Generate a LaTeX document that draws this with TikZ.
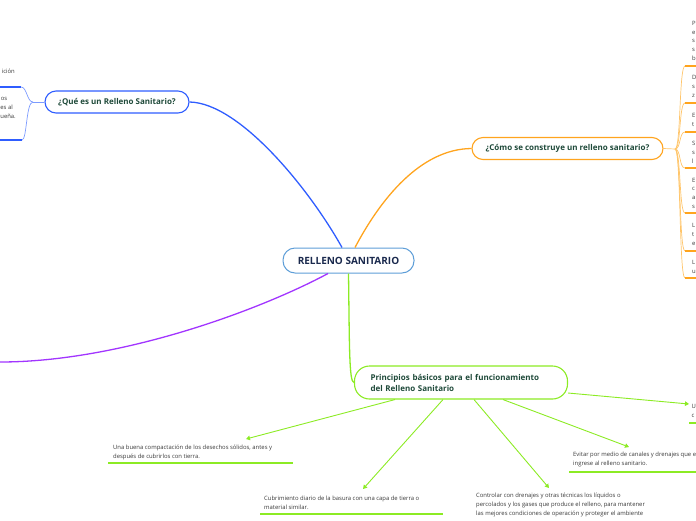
\documentclass[tikz,border=0pt]{standalone}
\usepackage{fontspec}
\setmainfont{Open Sans}
\usetikzlibrary{arrows.meta}
\definecolor{cblue}{HTML}{2F5DFF}
\definecolor{cbluel}{HTML}{7C9BFF}
\definecolor{corange}{HTML}{FFA41E}
\definecolor{corangel}{HTML}{FFC56A}
\definecolor{cgreen}{HTML}{8CEB24}
\definecolor{cpurple}{HTML}{A235FF}
\definecolor{ccentral}{HTML}{5E9ED8}
\definecolor{ctcentral}{HTML}{1B2A4E}
\definecolor{ctbranch}{HTML}{1F4A3A}
\definecolor{ctitem}{HTML}{3A3A3A}
\tikzset{
  central/.style={draw=ccentral, line width=1pt, fill=white, rounded corners=12pt,
    minimum width=131pt, minimum height=25pt, inner sep=0pt,
    font=\fontsize{10}{12}\selectfont\bfseries, text=ctcentral},
  branch/.style={fill=white, line width=1.1pt, inner sep=0pt,
    font=\fontsize{8}{11}\selectfont\bfseries, text=ctbranch},
  item/.style={inner sep=0pt, align=left, anchor=base west,
    font=\fontsize{5.9}{8.8}\selectfont, text=ctitem},
  itemr/.style={inner sep=0pt, anchor=base east,
    font=\fontsize{5.9}{8.8}\selectfont, text=ctitem},
  main/.style={line width=1.3pt},
  bracket/.style={line width=0.7pt},
  uline/.style={line width=1.6pt},
  garrow/.style={cgreen, line width=0.9pt, -{Triangle[length=4pt,width=4.5pt]}},
}
\begin{document}
\begin{tikzpicture}[x=1pt,y=-1pt]
\useasboundingbox (0,0) rectangle (696,520);

% central and branch nodes
\node[central] (c) at (348.5,260.5) {RELLENO SANITARIO};
\node[branch, draw=cblue, rounded corners=11pt, minimum width=144pt, minimum height=22pt] (q) at (117,102) {¿Qué es un Relleno Sanitario?};
\node[branch, draw=corange, rounded corners=11pt, minimum width=191pt, minimum height=22pt] (o) at (567.5,148.5) {¿Cómo se construye un relleno sanitario?};
\node[branch, draw=cgreen, rounded corners=15pt, minimum width=213pt, minimum height=33pt, align=left, text width=181pt] (p) at (461,382.5) {Principios básicos para el funcionamiento\\del Relleno Sanitario};

% helper x positions
\coordinate (xb) at (342,0);
\coordinate (xo) at (355,0);
\coordinate (xp) at (328,0);
\coordinate (xg1) at (395,0);
\coordinate (xg2) at (443,0);
\coordinate (xg3) at (474,0);
\coordinate (xg4) at (503,0);
\coordinate (yg5) at (0,393);

% main branches
\draw[main, cblue] (q.east) .. controls (240,103) and (310,190) .. (c.north -| xb);
\draw[main, corange] (c.north -| xo) .. controls (380,200) and (420,149) .. (o.west);
\coordinate (pend) at (0,362);
\draw[main, cpurple] (c.south -| xp) .. controls (260,310) and (120,362) .. (pend);
\draw[main, cgreen] (c.south) .. controls (349.5,345) and (349,382) .. (p.west);

% blue sub-items (cut at left edge)
\coordinate (jq) at (33,102);
\coordinate (qa) at (21,87);
\coordinate (qb) at (22,140);
\coordinate (qae) at (-5,87);
\coordinate (qbe) at (-5,140);
\draw[bracket, cbluel] (q.west) -- (jq);
\draw[bracket, cbluel] (jq) .. controls (27,102) and (27,87) .. (qa);
\draw[bracket, cbluel] (jq) .. controls (26,102) and (27,140) .. (qb);
\draw[uline, cblue] (qa) -- (qae);
\draw[uline, cblue] (qb) -- (qbe);
\node[itemr] (qt0) at (15,73) {ición};
\node[itemr] (qt1) at (7.5,100) {os};
\node[itemr] (qt2) at (13,109) {es al};
\node[itemr] (qt3) at (16,118) {ueña.};

% orange sub-items (cut at right edge)
\coordinate (jo) at (675,149);
\draw[bracket, corangel] (o.east) -- (jo);
\foreach \n/\y in {1/66,2/103,3/132,4/168,5/213,6/251,7/278}{
  \coordinate (ou\n) at (685,\y);
  \coordinate (oue\n) at (700,\y);
  \draw[bracket, corangel] (jo) .. controls (681,149) and (679,\y) .. (ou\n);
  \draw[uline, corange] (ou\n) -- (oue\n);
}
\node[item] (ot1) at (692,60.5) {P\\e\\s\\s\\b};
\node[item] (ot2) at (692,97.5) {D\\s\\z};
\node[item] (ot3) at (692,126) {E\\t};
\node[item] (ot4) at (692,163) {S\\s\\l};
\node[item] (ot5) at (692,208.5) {E\\c\\a\\s};
\node[item] (ot6) at (692,245.5) {L\\t\\e};
\node[item] (ot7) at (692,273.5) {L\\u};

% green sub-items
\node[item] (g1) at (113,458) {Una buena compactación de los desechos sólidos, antes y\\después de cubrirlos con tierra.};
\node[item] (g2) at (264,509) {Cubrimiento diario de la basura con una capa de tierra o\\material similar.};
\node[item] (g3) at (476,515) {Controlar con drenajes y otras técnicas los líquidos o\\percolados y los gases que produce el relleno, para mantener\\las mejores condiciones de operación y proteger el ambiente};
\node[item] (g4) at (573,465) {Evitar por medio de canales y drenajes que e\\ingrese al relleno sanitario.};
\node[item] (g5) at (691.5,417.5) {U\\c};
\coordinate (u1a) at (108,463); \coordinate (u1b) at (293,463);
\coordinate (u2a) at (260,514); \coordinate (u2b) at (443,514);
\coordinate (u4a) at (569,472); \coordinate (u4b) at (700,472);
\coordinate (u5a) at (689,423); \coordinate (u5b) at (700,423);
\draw[uline, cgreen] (u1a) -- (u1b);
\draw[uline, cgreen] (u2a) -- (u2b);
\draw[uline, cgreen] (u4a) -- (u4b);
\draw[uline, cgreen] (u5a) -- (u5b);

\coordinate (a1) at (246,439);
\coordinate (a2) at (363,489);
\coordinate (a3) at (549,488);
\coordinate (a4) at (629,447);
\coordinate (a5) at (689,404);
\draw[garrow] (p.south -| xg1) -- (a1);
\draw[garrow] (p.south -| xg2) -- (a2);
\draw[garrow] (p.south -| xg3) -- (a3);
\draw[garrow] (p.south -| xg4) -- (a4);
\draw[garrow] (p.east |- yg5) -- (a5);
\end{tikzpicture}
\end{document}
